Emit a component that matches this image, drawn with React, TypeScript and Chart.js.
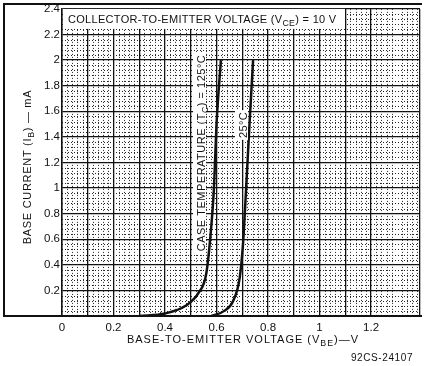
import React, { useEffect, useRef } from 'react';
import { Chart, registerables } from 'chart.js';
Chart.register(...registerables);

// Case temperature 125°C
const vbe125 = [0.30, 0.40, 0.48, 0.53, 0.56, 0.577, 0.59, 0.60, 0.617];
const ib125 = [0, 0.02, 0.08, 0.18, 0.33, 0.64, 1.0, 1.5, 2.0];
// Case temperature 25°C
const vbe25 = [0.58, 0.63, 0.665, 0.69, 0.703, 0.715, 0.728, 0.742];
const ib25 = [0, 0.04, 0.12, 0.30, 0.57, 1.0, 1.5, 2.0];

const xTickLabels = [0, 0.2, 0.4, 0.6, 0.8, 1, 1.2];
const yTickLabels = [0.2, 0.4, 0.6, 0.8, 1, 1.2, 1.4, 1.6, 1.8, 2, 2.2, 2.4];

const FONT = '"Liberation Sans", Arial, sans-serif';

type Part = { t: string; sub?: boolean };

function setLS(ctx: CanvasRenderingContext2D, ls: number) {
  (ctx as any).letterSpacing = `${ls}px`;
}

function richWidth(ctx: CanvasRenderingContext2D, parts: Part[], size: number, ls = 0) {
  let w = 0;
  setLS(ctx, ls);
  for (const p of parts) {
    ctx.font = `${p.sub ? size * 0.8 : size}px ${FONT}`;
    w += ctx.measureText(p.t).width;
  }
  return w;
}

function drawRich(ctx: CanvasRenderingContext2D, parts: Part[], x: number, y: number, size: number, align: 'left' | 'center', ls = 0) {
  const w = richWidth(ctx, parts, size, ls);
  let cx = align === 'center' ? x - w / 2 : x;
  ctx.textAlign = 'left';
  ctx.textBaseline = 'alphabetic';
  setLS(ctx, ls);
  for (const p of parts) {
    ctx.font = `${p.sub ? size * 0.8 : size}px ${FONT}`;
    ctx.fillText(p.t, cx, p.sub ? y + size * 0.3 : y);
    cx += ctx.measureText(p.t).width;
  }
  setLS(ctx, 0);
  return w;
}

const near = (v: number, arr: number[]) => arr.some((a) => Math.abs(a - v) < 1e-6);

const decor = {
  id: 'decor',
  beforeDraw(chart: any) {
    const ctx = chart.ctx as CanvasRenderingContext2D;
    ctx.save();
    ctx.fillStyle = '#fff';
    ctx.fillRect(0, 0, chart.width, chart.height);
    ctx.restore();
  },
  beforeDatasetsDraw(chart: any) {
    const ctx = chart.ctx as CanvasRenderingContext2D;
    const { left, right, top, bottom } = chart.chartArea;
    const xs = chart.scales.x;
    const ys = chart.scales.y;
    ctx.save();
    ctx.strokeStyle = '#222';
    ctx.lineWidth = 1;
    ctx.setLineDash([1, 2]);
    // minor vertical dotted lines every 0.02
    for (let i = 0; i <= 70; i++) {
      if (i % 5 === 0) continue;
      const v = i * 0.02;
      const px = Math.round(xs.getPixelForValue(v)) + 0.5;
      if (px > right) break;
      ctx.beginPath();
      ctx.moveTo(px, top);
      ctx.lineTo(px, bottom);
      ctx.stroke();
    }
    // minor horizontal dotted lines every 0.04
    for (let i = 0; i <= 60; i++) {
      if (i % 5 === 0) continue;
      const v = i * 0.04;
      const py = Math.round(ys.getPixelForValue(v)) + 0.5;
      if (py < top) break;
      ctx.beginPath();
      ctx.moveTo(left, py);
      ctx.lineTo(right, py);
      ctx.stroke();
    }
    ctx.setLineDash([]);
    // annotation box
    ctx.fillStyle = '#fff';
    ctx.fillRect(left + 1, top, 282, 20);
    ctx.fillStyle = '#111';
    drawRich(ctx, [
      { t: 'COLLECTOR-TO-EMITTER VOLTAGE (V' },
      { t: 'CE', sub: true },
      { t: ') = 10 V' },
    ], left + 6, top + 14, 11, 'left', 0.3);
    ctx.restore();
  },
  afterDatasetsDraw(chart: any) {
    const ctx = chart.ctx as CanvasRenderingContext2D;
    const { right, bottom } = chart.chartArea;
    ctx.save();
    ctx.fillStyle = '#111';
    // curve labels
    const lab1: Part[] = [{ t: 'CASE TEMPERATURE (T' }, { t: 'C', sub: true }, { t: ') = 125°C' }];
    ctx.save();
    ctx.translate(201, 153);
    ctx.rotate(-Math.PI / 2);
    const w1 = richWidth(ctx, lab1, 11, 0.5);
    ctx.fillStyle = '#fff';
    ctx.fillRect(-w1 / 2 - 2, -8, w1 + 4, 13);
    ctx.fillStyle = '#111';
    drawRich(ctx, lab1, 0, 4, 11, 'center', 0.5);
    ctx.restore();

    const lab2: Part[] = [{ t: '25°C' }];
    ctx.save();
    ctx.translate(243, 125);
    ctx.rotate(-Math.PI / 2);
    const w2 = richWidth(ctx, lab2, 11, 0.3);
    ctx.fillStyle = '#fff';
    ctx.fillRect(-w2 / 2 - 2, -8, w2 + 4, 13);
    ctx.fillStyle = '#111';
    drawRich(ctx, lab2, 0, 4, 11, 'center', 0.3);
    ctx.restore();

    // frame
    ctx.strokeStyle = '#111';
    ctx.lineWidth = 2;
    ctx.beginPath();
    ctx.moveTo(right + 2, 4);
    ctx.lineTo(4, 4);
    ctx.lineTo(4, bottom);
    ctx.lineTo(right + 2, bottom);
    ctx.stroke();

    // y axis title
    ctx.save();
    ctx.translate(27, 167);
    ctx.rotate(-Math.PI / 2);
    ctx.fillStyle = '#111';
    drawRich(ctx, [{ t: 'BASE CURRENT (I' }, { t: 'B', sub: true }, { t: ') — mA' }], 0, 4, 11, 'center', 0.7);
    ctx.restore();

    // x axis title
    drawRich(ctx, [{ t: 'BASE-TO-EMITTER VOLTAGE (V' }, { t: 'BE', sub: true }, { t: ')—V' }], 243, 343, 11, 'center', 1.0);

    // figure code
    drawRich(ctx, [{ t: '92CS-24107' }], 382, 361, 10, 'center', 0.6);
    ctx.restore();
  },
};

export default function App() {
  const ref = useRef<HTMLCanvasElement | null>(null);
  useEffect(() => {
    document.body.style.margin = '0';
    const canvas = ref.current!;
    const chart = new Chart(canvas, {
      type: 'line',
      data: {
        datasets: [
          {
            label: '125°C',
            data: vbe125.map((v, i) => ({ x: v, y: ib125[i] })),
            borderColor: '#111',
            borderWidth: 2.5,
            pointRadius: 0,
            cubicInterpolationMode: 'monotone',
            fill: false,
          },
          {
            label: '25°C',
            data: vbe25.map((v, i) => ({ x: v, y: ib25[i] })),
            borderColor: '#111',
            borderWidth: 2.5,
            pointRadius: 0,
            cubicInterpolationMode: 'monotone',
            fill: false,
          },
        ],
      },
      options: {
        animation: false,
        responsive: false,
        maintainAspectRatio: false,
        layout: { padding: { top: 6, left: 0, right: 0, bottom: 0 } },
        plugins: { legend: { display: false }, tooltip: { enabled: false } },
        scales: {
          x: {
            type: 'linear',
            min: 0,
            max: 1.39,
            afterFit: (s: any) => { s.height = 50; },
            border: { display: true, color: '#111', width: 2 },
            grid: {
              drawTicks: false,
              color: '#111',
              lineWidth: 1.3,
            },
            ticks: {
              stepSize: 0.1,
              autoSkip: false,
              maxRotation: 0,
              padding: 5,
              color: '#111',
              font: { family: FONT, size: 11.5 },
              callback: (v: any) => (near(Number(v), xTickLabels) ? String(Math.round(Number(v) * 10) / 10) : ''),
            },
          },
          y: {
            type: 'linear',
            min: 0,
            max: 2.4,
            afterFit: (s: any) => { s.width = 62; },
            border: { display: true, color: '#111', width: 1.5 },
            grid: {
              drawTicks: false,
              color: '#111',
              lineWidth: 1.3,
            },
            ticks: {
              stepSize: 0.2,
              autoSkip: false,
              padding: 2,
              color: '#111',
              font: { family: FONT, size: 11.5 },
              callback: (v: any) => (near(Number(v), yTickLabels) ? String(Math.round(Number(v) * 10) / 10) : ''),
            },
          },
        },
      },
      plugins: [decor],
    });
    return () => chart.destroy();
  }, []);
  return (
    <div style={{ position: 'absolute', left: 0, top: 0, width: 425, height: 366 }}>
      <canvas ref={ref} width={425} height={366} style={{ width: 425, height: 366, display: 'block' }} />
    </div>
  );
}
